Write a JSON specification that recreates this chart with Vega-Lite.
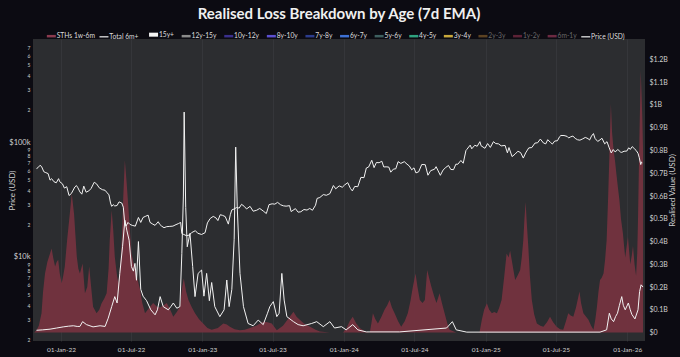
{
  "$schema": "https://vega.github.io/schema/vega-lite/v6.json",
  "width": 612,
  "height": 302,
  "autosize": {"type": "none"},
  "padding": {"left": 33, "top": 39, "right": 35, "bottom": 16},
  "background": "#0c0b12",
  "title": {"text": "Realised Loss Breakdown by Age (7d EMA)", "color": "#f0f0f0", "fontSize": 15, "font": "Lato", "fontWeight": "bold", "anchor": "middle", "offset": 9},
  "config": {
    "view": {"fill": "#2c2d30", "stroke": null},
    "axis": {"labelFont": "Lato", "titleFont": "Lato", "labelColor": "#cfcfcf", "titleColor": "#cfcfcf", "domain": false, "ticks": false, "gridColor": "#3a3b3f", "gridWidth": 0.7, "titleFontWeight": "normal"},
    "legend": {"orient": "none", "legendX": 15, "legendY": -8, "direction": "horizontal", "columns": 15, "symbolType": "stroke", "symbolSize": 81, "symbolStrokeWidth": 2.5, "labelFont": "Lato", "labelFontSize": 6.7, "labelColor": "#dddddd", "labelOffset": 2, "columnPadding": 1.6}
  },
  "datasets": {
    "price": [
      {"date": "2021-10-30", "usd": 61800}, {"date": "2021-11-03", "usd": 63000}, {"date": "2021-11-08", "usd": 66000}, {"date": "2021-11-12", "usd": 64500}, {"date": "2021-11-18", "usd": 58000}, {"date": "2021-11-23", "usd": 57000}, {"date": "2021-11-29", "usd": 55900}, {"date": "2021-12-04", "usd": 49000}, {"date": "2021-12-08", "usd": 50500}, {"date": "2021-12-14", "usd": 47500}, {"date": "2021-12-20", "usd": 46500}, {"date": "2021-12-26", "usd": 50500}, {"date": "2021-12-29", "usd": 47500},
      {"date": "2022-01-05", "usd": 45500}, {"date": "2022-01-10", "usd": 41800}, {"date": "2022-01-16", "usd": 43000}, {"date": "2022-01-22", "usd": 36000}, {"date": "2022-01-28", "usd": 37500}, {"date": "2022-02-06", "usd": 42700}, {"date": "2022-02-10", "usd": 44000}, {"date": "2022-02-14", "usd": 42000}, {"date": "2022-02-19", "usd": 38700}, {"date": "2022-02-24", "usd": 37000}, {"date": "2022-03-01", "usd": 43500}, {"date": "2022-03-07", "usd": 38500}, {"date": "2022-03-14", "usd": 39500}, {"date": "2022-03-20", "usd": 41500}, {"date": "2022-03-28", "usd": 47000}, {"date": "2022-04-03", "usd": 45500}, {"date": "2022-04-10", "usd": 42000}, {"date": "2022-04-18", "usd": 40500}, {"date": "2022-04-25", "usd": 40000}, {"date": "2022-04-29", "usd": 38500}, {"date": "2022-05-05", "usd": 36500}, {"date": "2022-05-09", "usd": 31000}, {"date": "2022-05-12", "usd": 29000}, {"date": "2022-05-16", "usd": 30000}, {"date": "2022-05-20", "usd": 29200}, {"date": "2022-05-26", "usd": 29500}, {"date": "2022-05-31", "usd": 31700}, {"date": "2022-06-07", "usd": 31000}, {"date": "2022-06-11", "usd": 28500}, {"date": "2022-06-14", "usd": 22000}, {"date": "2022-06-18", "usd": 19500}, {"date": "2022-06-23", "usd": 21000}, {"date": "2022-06-28", "usd": 20200}, {"date": "2022-07-04", "usd": 19800}, {"date": "2022-07-12", "usd": 19500}, {"date": "2022-07-20", "usd": 23200}, {"date": "2022-07-26", "usd": 21000}, {"date": "2022-08-01", "usd": 23200}, {"date": "2022-08-08", "usd": 23800}, {"date": "2022-08-14", "usd": 24300}, {"date": "2022-08-19", "usd": 21000}, {"date": "2022-08-26", "usd": 20300}, {"date": "2022-09-01", "usd": 19800}, {"date": "2022-09-09", "usd": 21300}, {"date": "2022-09-13", "usd": 20200}, {"date": "2022-09-18", "usd": 19500}, {"date": "2022-09-24", "usd": 18900}, {"date": "2022-10-01", "usd": 19300}, {"date": "2022-10-09", "usd": 19400}, {"date": "2022-10-17", "usd": 19500}, {"date": "2022-10-25", "usd": 20100}, {"date": "2022-10-31", "usd": 20500}, {"date": "2022-11-06", "usd": 21000}, {"date": "2022-11-09", "usd": 16800}, {"date": "2022-11-14", "usd": 16500}, {"date": "2022-11-21", "usd": 16100}, {"date": "2022-11-28", "usd": 16300}, {"date": "2022-12-04", "usd": 17100}, {"date": "2022-12-14", "usd": 17800}, {"date": "2022-12-20", "usd": 16900}, {"date": "2022-12-30", "usd": 16500},
      {"date": "2023-01-08", "usd": 17100}, {"date": "2023-01-14", "usd": 20800}, {"date": "2023-01-21", "usd": 22700}, {"date": "2023-01-29", "usd": 23700}, {"date": "2023-02-05", "usd": 23000}, {"date": "2023-02-10", "usd": 21800}, {"date": "2023-02-16", "usd": 24500}, {"date": "2023-02-22", "usd": 24200}, {"date": "2023-03-01", "usd": 23600}, {"date": "2023-03-09", "usd": 20300}, {"date": "2023-03-14", "usd": 24500}, {"date": "2023-03-18", "usd": 27000}, {"date": "2023-03-24", "usd": 27500}, {"date": "2023-03-30", "usd": 28300}, {"date": "2023-04-06", "usd": 28000}, {"date": "2023-04-12", "usd": 30200}, {"date": "2023-04-19", "usd": 29000}, {"date": "2023-04-25", "usd": 27500}, {"date": "2023-05-04", "usd": 29000}, {"date": "2023-05-12", "usd": 26300}, {"date": "2023-05-21", "usd": 26800}, {"date": "2023-05-29", "usd": 27800}, {"date": "2023-06-07", "usd": 26400}, {"date": "2023-06-15", "usd": 25100}, {"date": "2023-06-22", "usd": 30000}, {"date": "2023-06-30", "usd": 30500}, {"date": "2023-07-07", "usd": 30300}, {"date": "2023-07-14", "usd": 31400}, {"date": "2023-07-22", "usd": 29900}, {"date": "2023-07-29", "usd": 29300}, {"date": "2023-08-05", "usd": 29100}, {"date": "2023-08-14", "usd": 29400}, {"date": "2023-08-18", "usd": 26100}, {"date": "2023-08-29", "usd": 27700}, {"date": "2023-09-05", "usd": 25800}, {"date": "2023-09-12", "usd": 26000}, {"date": "2023-09-20", "usd": 27200}, {"date": "2023-09-28", "usd": 26900}, {"date": "2023-10-05", "usd": 27800}, {"date": "2023-10-12", "usd": 26800}, {"date": "2023-10-20", "usd": 29700}, {"date": "2023-10-24", "usd": 34000}, {"date": "2023-10-31", "usd": 34600}, {"date": "2023-11-09", "usd": 36700}, {"date": "2023-11-17", "usd": 36200}, {"date": "2023-11-26", "usd": 37400}, {"date": "2023-12-05", "usd": 44000}, {"date": "2023-12-11", "usd": 41200}, {"date": "2023-12-20", "usd": 43700}, {"date": "2023-12-28", "usd": 42500},
      {"date": "2024-01-03", "usd": 44500}, {"date": "2024-01-11", "usd": 46600}, {"date": "2024-01-18", "usd": 41500}, {"date": "2024-01-23", "usd": 39500}, {"date": "2024-01-29", "usd": 43200}, {"date": "2024-02-06", "usd": 43000}, {"date": "2024-02-14", "usd": 51800}, {"date": "2024-02-22", "usd": 51500}, {"date": "2024-02-28", "usd": 62500}, {"date": "2024-03-05", "usd": 63800}, {"date": "2024-03-13", "usd": 73000}, {"date": "2024-03-19", "usd": 63000}, {"date": "2024-03-25", "usd": 69800}, {"date": "2024-04-01", "usd": 69500}, {"date": "2024-04-08", "usd": 71600}, {"date": "2024-04-13", "usd": 63800}, {"date": "2024-04-19", "usd": 64000}, {"date": "2024-04-26", "usd": 63700}, {"date": "2024-05-01", "usd": 57500}, {"date": "2024-05-08", "usd": 61200}, {"date": "2024-05-14", "usd": 61500}, {"date": "2024-05-20", "usd": 71000}, {"date": "2024-05-27", "usd": 68500}, {"date": "2024-06-05", "usd": 71000}, {"date": "2024-06-12", "usd": 67500}, {"date": "2024-06-18", "usd": 65100}, {"date": "2024-06-24", "usd": 60300}, {"date": "2024-06-30", "usd": 62700}, {"date": "2024-07-05", "usd": 56700}, {"date": "2024-07-12", "usd": 57900}, {"date": "2024-07-20", "usd": 67100}, {"date": "2024-07-29", "usd": 66800}, {"date": "2024-08-05", "usd": 54100}, {"date": "2024-08-12", "usd": 59300}, {"date": "2024-08-22", "usd": 61000}, {"date": "2024-08-26", "usd": 64200}, {"date": "2024-09-06", "usd": 54000}, {"date": "2024-09-13", "usd": 60000}, {"date": "2024-09-20", "usd": 63200}, {"date": "2024-09-27", "usd": 65800}, {"date": "2024-10-03", "usd": 60700}, {"date": "2024-10-10", "usd": 60500}, {"date": "2024-10-16", "usd": 67500}, {"date": "2024-10-21", "usd": 67400}, {"date": "2024-10-29", "usd": 72700}, {"date": "2024-11-04", "usd": 68800}, {"date": "2024-11-11", "usd": 88700}, {"date": "2024-11-13", "usd": 90500}, {"date": "2024-11-22", "usd": 98900}, {"date": "2024-11-26", "usd": 91900}, {"date": "2024-12-04", "usd": 98700}, {"date": "2024-12-10", "usd": 96600}, {"date": "2024-12-17", "usd": 106000}, {"date": "2024-12-20", "usd": 97700}, {"date": "2024-12-30", "usd": 92800},
      {"date": "2025-01-06", "usd": 102000}, {"date": "2025-01-13", "usd": 94500}, {"date": "2025-01-21", "usd": 106000}, {"date": "2025-01-27", "usd": 102000}, {"date": "2025-02-03", "usd": 101500}, {"date": "2025-02-10", "usd": 97400}, {"date": "2025-02-20", "usd": 98300}, {"date": "2025-02-26", "usd": 84700}, {"date": "2025-03-02", "usd": 94200}, {"date": "2025-03-10", "usd": 78600}, {"date": "2025-03-18", "usd": 82700}, {"date": "2025-03-25", "usd": 87500}, {"date": "2025-04-01", "usd": 85200}, {"date": "2025-04-08", "usd": 76300}, {"date": "2025-04-14", "usd": 84500}, {"date": "2025-04-22", "usd": 93500}, {"date": "2025-04-30", "usd": 94200}, {"date": "2025-05-08", "usd": 103000}, {"date": "2025-05-15", "usd": 103700}, {"date": "2025-05-22", "usd": 111700}, {"date": "2025-05-30", "usd": 103300}, {"date": "2025-06-05", "usd": 101500}, {"date": "2025-06-10", "usd": 110300}, {"date": "2025-06-17", "usd": 104600}, {"date": "2025-06-22", "usd": 101000}, {"date": "2025-06-28", "usd": 107300}, {"date": "2025-07-05", "usd": 108000}, {"date": "2025-07-11", "usd": 117500}, {"date": "2025-07-14", "usd": 120000}, {"date": "2025-07-22", "usd": 119900}, {"date": "2025-07-30", "usd": 117900}, {"date": "2025-08-03", "usd": 114200}, {"date": "2025-08-08", "usd": 116700}, {"date": "2025-08-14", "usd": 118500}, {"date": "2025-08-20", "usd": 113200}, {"date": "2025-08-26", "usd": 110100}, {"date": "2025-09-01", "usd": 109200}, {"date": "2025-09-08", "usd": 112000}, {"date": "2025-09-15", "usd": 115400}, {"date": "2025-09-22", "usd": 112700}, {"date": "2025-09-26", "usd": 109600}, {"date": "2025-10-01", "usd": 118600}, {"date": "2025-10-06", "usd": 124700}, {"date": "2025-10-10", "usd": 113200}, {"date": "2025-10-17", "usd": 106500}, {"date": "2025-10-23", "usd": 110000}, {"date": "2025-10-28", "usd": 113500}, {"date": "2025-11-04", "usd": 101500}, {"date": "2025-11-10", "usd": 106000}, {"date": "2025-11-15", "usd": 95000}, {"date": "2025-11-21", "usd": 84500}, {"date": "2025-11-26", "usd": 90500}, {"date": "2025-12-01", "usd": 86300}, {"date": "2025-12-08", "usd": 90600}, {"date": "2025-12-15", "usd": 86000}, {"date": "2025-12-18", "usd": 85500}, {"date": "2025-12-24", "usd": 87500}, {"date": "2025-12-31", "usd": 87800},
      {"date": "2026-01-05", "usd": 93800}, {"date": "2026-01-09", "usd": 90700}, {"date": "2026-01-14", "usd": 96000}, {"date": "2026-01-19", "usd": 92500}, {"date": "2026-01-24", "usd": 89000}, {"date": "2026-01-29", "usd": 84000}, {"date": "2026-02-01", "usd": 77500}, {"date": "2026-02-05", "usd": 67000}, {"date": "2026-02-07", "usd": 70500}, {"date": "2026-02-09", "usd": 69500}
    ],
    "sth": [
      {"date": "2021-10-24", "bn": 0}, {"date": "2021-10-30", "bn": 0.01}, {"date": "2021-11-05", "bn": 0.03}, {"date": "2021-11-12", "bn": 0.085}, {"date": "2021-11-16", "bn": 0.18}, {"date": "2021-11-21", "bn": 0.26}, {"date": "2021-11-27", "bn": 0.31}, {"date": "2021-12-04", "bn": 0.348}, {"date": "2021-12-08", "bn": 0.37}, {"date": "2021-12-12", "bn": 0.33}, {"date": "2021-12-17", "bn": 0.29}, {"date": "2021-12-21", "bn": 0.31}, {"date": "2021-12-25", "bn": 0.32}, {"date": "2021-12-29", "bn": 0.26},
      {"date": "2022-01-03", "bn": 0.217}, {"date": "2022-01-07", "bn": 0.25}, {"date": "2022-01-11", "bn": 0.29}, {"date": "2022-01-17", "bn": 0.406}, {"date": "2022-01-24", "bn": 0.523}, {"date": "2022-01-29", "bn": 0.611}, {"date": "2022-02-04", "bn": 0.52}, {"date": "2022-02-11", "bn": 0.333}, {"date": "2022-02-15", "bn": 0.28}, {"date": "2022-02-19", "bn": 0.26}, {"date": "2022-02-26", "bn": 0.304}, {"date": "2022-03-04", "bn": 0.173}, {"date": "2022-03-10", "bn": 0.2}, {"date": "2022-03-15", "bn": 0.29}, {"date": "2022-03-20", "bn": 0.2}, {"date": "2022-03-25", "bn": 0.114}, {"date": "2022-04-03", "bn": 0.085}, {"date": "2022-04-10", "bn": 0.1}, {"date": "2022-04-16", "bn": 0.129}, {"date": "2022-04-23", "bn": 0.15}, {"date": "2022-04-29", "bn": 0.173}, {"date": "2022-05-04", "bn": 0.28}, {"date": "2022-05-07", "bn": 0.406}, {"date": "2022-05-12", "bn": 0.538}, {"date": "2022-05-16", "bn": 0.45}, {"date": "2022-05-20", "bn": 0.333}, {"date": "2022-05-25", "bn": 0.26}, {"date": "2022-05-29", "bn": 0.217}, {"date": "2022-06-03", "bn": 0.3}, {"date": "2022-06-07", "bn": 0.406}, {"date": "2022-06-11", "bn": 0.6}, {"date": "2022-06-15", "bn": 0.757}, {"date": "2022-06-20", "bn": 0.65}, {"date": "2022-06-24", "bn": 0.552}, {"date": "2022-07-02", "bn": 0.348}, {"date": "2022-07-08", "bn": 0.3}, {"date": "2022-07-14", "bn": 0.26}, {"date": "2022-07-24", "bn": 0.19}, {"date": "2022-07-30", "bn": 0.13}, {"date": "2022-08-06", "bn": 0.085}, {"date": "2022-08-13", "bn": 0.1}, {"date": "2022-08-19", "bn": 0.114}, {"date": "2022-08-27", "bn": 0.13}, {"date": "2022-09-05", "bn": 0.115}, {"date": "2022-09-14", "bn": 0.11}, {"date": "2022-09-23", "bn": 0.12}, {"date": "2022-10-01", "bn": 0.13}, {"date": "2022-10-10", "bn": 0.1}, {"date": "2022-10-18", "bn": 0.07}, {"date": "2022-10-27", "bn": 0.09}, {"date": "2022-11-04", "bn": 0.114}, {"date": "2022-11-10", "bn": 0.2}, {"date": "2022-11-14", "bn": 0.238}, {"date": "2022-11-20", "bn": 0.18}, {"date": "2022-11-26", "bn": 0.143}, {"date": "2022-12-05", "bn": 0.11}, {"date": "2022-12-13", "bn": 0.085}, {"date": "2022-12-23", "bn": 0.06},
      {"date": "2023-01-03", "bn": 0.04}, {"date": "2023-01-14", "bn": 0.02}, {"date": "2023-01-25", "bn": 0.012}, {"date": "2023-02-10", "bn": 0.02}, {"date": "2023-02-24", "bn": 0.04}, {"date": "2023-03-05", "bn": 0.035}, {"date": "2023-03-13", "bn": 0.026}, {"date": "2023-03-25", "bn": 0.015}, {"date": "2023-04-08", "bn": 0.01}, {"date": "2023-04-20", "bn": 0.012}, {"date": "2023-05-04", "bn": 0.02}, {"date": "2023-05-20", "bn": 0.03}, {"date": "2023-06-07", "bn": 0.048}, {"date": "2023-06-18", "bn": 0.045}, {"date": "2023-06-29", "bn": 0.04}, {"date": "2023-07-12", "bn": 0.01}, {"date": "2023-07-28", "bn": 0.03}, {"date": "2023-08-10", "bn": 0.06}, {"date": "2023-08-24", "bn": 0.092}, {"date": "2023-09-01", "bn": 0.07}, {"date": "2023-09-10", "bn": 0.055}, {"date": "2023-09-20", "bn": 0.04}, {"date": "2023-10-06", "bn": 0.026}, {"date": "2023-10-20", "bn": 0.012}, {"date": "2023-10-31", "bn": 0.005}, {"date": "2023-11-26", "bn": 0}, {"date": "2023-12-30", "bn": 0},
      {"date": "2024-01-08", "bn": 0.02}, {"date": "2024-01-16", "bn": 0.05}, {"date": "2024-01-24", "bn": 0.07}, {"date": "2024-02-02", "bn": 0.04}, {"date": "2024-02-11", "bn": 0.02}, {"date": "2024-02-25", "bn": 0.005}, {"date": "2024-03-08", "bn": 0}, {"date": "2024-03-12", "bn": 0.04}, {"date": "2024-03-16", "bn": 0.085}, {"date": "2024-03-22", "bn": 0.06}, {"date": "2024-03-29", "bn": 0.04}, {"date": "2024-04-07", "bn": 0.07}, {"date": "2024-04-15", "bn": 0.1}, {"date": "2024-04-22", "bn": 0.12}, {"date": "2024-04-28", "bn": 0.143}, {"date": "2024-05-04", "bn": 0.11}, {"date": "2024-05-11", "bn": 0.085}, {"date": "2024-05-20", "bn": 0.05}, {"date": "2024-05-28", "bn": 0.026}, {"date": "2024-06-06", "bn": 0.05}, {"date": "2024-06-14", "bn": 0.085}, {"date": "2024-06-21", "bn": 0.14}, {"date": "2024-06-27", "bn": 0.2}, {"date": "2024-07-04", "bn": 0.26}, {"date": "2024-07-09", "bn": 0.2}, {"date": "2024-07-15", "bn": 0.143}, {"date": "2024-07-22", "bn": 0.13}, {"date": "2024-07-28", "bn": 0.143}, {"date": "2024-08-03", "bn": 0.275}, {"date": "2024-08-08", "bn": 0.24}, {"date": "2024-08-14", "bn": 0.2}, {"date": "2024-08-21", "bn": 0.16}, {"date": "2024-08-27", "bn": 0.13}, {"date": "2024-09-04", "bn": 0.173}, {"date": "2024-09-10", "bn": 0.13}, {"date": "2024-09-17", "bn": 0.085}, {"date": "2024-09-24", "bn": 0.04}, {"date": "2024-09-30", "bn": 0.012}, {"date": "2024-10-17", "bn": 0}, {"date": "2024-12-16", "bn": 0}, {"date": "2024-12-22", "bn": 0.056}, {"date": "2024-12-28", "bn": 0.1},
      {"date": "2025-01-04", "bn": 0.129}, {"date": "2025-01-10", "bn": 0.1}, {"date": "2025-01-17", "bn": 0.085}, {"date": "2025-01-23", "bn": 0.09}, {"date": "2025-01-30", "bn": 0.085}, {"date": "2025-02-05", "bn": 0.11}, {"date": "2025-02-11", "bn": 0.143}, {"date": "2025-02-18", "bn": 0.25}, {"date": "2025-02-24", "bn": 0.348}, {"date": "2025-03-01", "bn": 0.33}, {"date": "2025-03-05", "bn": 0.36}, {"date": "2025-03-11", "bn": 0.3}, {"date": "2025-03-18", "bn": 0.231}, {"date": "2025-03-24", "bn": 0.25}, {"date": "2025-03-31", "bn": 0.275}, {"date": "2025-04-04", "bn": 0.33}, {"date": "2025-04-08", "bn": 0.406}, {"date": "2025-04-11", "bn": 0.5}, {"date": "2025-04-14", "bn": 0.574}, {"date": "2025-04-17", "bn": 0.48}, {"date": "2025-04-21", "bn": 0.375}, {"date": "2025-04-25", "bn": 0.25}, {"date": "2025-04-30", "bn": 0.143}, {"date": "2025-05-06", "bn": 0.08}, {"date": "2025-05-13", "bn": 0.04}, {"date": "2025-05-22", "bn": 0.03}, {"date": "2025-05-30", "bn": 0.026}, {"date": "2025-06-08", "bn": 0.045}, {"date": "2025-06-16", "bn": 0.07}, {"date": "2025-06-24", "bn": 0.045}, {"date": "2025-07-03", "bn": 0.026}, {"date": "2025-07-12", "bn": 0.015}, {"date": "2025-07-20", "bn": 0.012}, {"date": "2025-07-27", "bn": 0.05}, {"date": "2025-08-02", "bn": 0.085}, {"date": "2025-08-08", "bn": 0.075}, {"date": "2025-08-15", "bn": 0.07}, {"date": "2025-08-22", "bn": 0.11}, {"date": "2025-08-31", "bn": 0.18}, {"date": "2025-09-04", "bn": 0.13}, {"date": "2025-09-10", "bn": 0.085}, {"date": "2025-09-17", "bn": 0.07}, {"date": "2025-09-23", "bn": 0.056}, {"date": "2025-09-30", "bn": 0.03}, {"date": "2025-10-06", "bn": 0.012}, {"date": "2025-10-11", "bn": 0.06}, {"date": "2025-10-15", "bn": 0.114}, {"date": "2025-10-19", "bn": 0.18}, {"date": "2025-10-23", "bn": 0.231}, {"date": "2025-10-27", "bn": 0.24}, {"date": "2025-11-01", "bn": 0.26}, {"date": "2025-11-05", "bn": 0.32}, {"date": "2025-11-09", "bn": 0.406}, {"date": "2025-11-13", "bn": 0.6}, {"date": "2025-11-16", "bn": 0.772}, {"date": "2025-11-20", "bn": 1.006}, {"date": "2025-11-23", "bn": 0.88}, {"date": "2025-11-27", "bn": 0.8}, {"date": "2025-12-01", "bn": 0.75}, {"date": "2025-12-04", "bn": 0.7}, {"date": "2025-12-08", "bn": 0.64}, {"date": "2025-12-12", "bn": 0.582}, {"date": "2025-12-16", "bn": 0.5}, {"date": "2025-12-21", "bn": 0.436}, {"date": "2025-12-24", "bn": 0.38}, {"date": "2025-12-27", "bn": 0.33}, {"date": "2025-12-30", "bn": 0.37},
      {"date": "2026-01-03", "bn": 0.42}, {"date": "2026-01-06", "bn": 0.36}, {"date": "2026-01-09", "bn": 0.3}, {"date": "2026-01-13", "bn": 0.34}, {"date": "2026-01-16", "bn": 0.38}, {"date": "2026-01-20", "bn": 0.3}, {"date": "2026-01-24", "bn": 0.25}, {"date": "2026-01-27", "bn": 0.35}, {"date": "2026-01-29", "bn": 0.5}, {"date": "2026-02-01", "bn": 0.8}, {"date": "2026-02-05", "bn": 1.15}, {"date": "2026-02-07", "bn": 1.05}, {"date": "2026-02-09", "bn": 0.95}, {"date": "2026-02-11", "bn": 0.8}
    ],
    "total": [
      {"date": "2021-10-30", "bn": 0.01}, {"date": "2021-11-15", "bn": 0.012}, {"date": "2021-12-04", "bn": 0.015}, {"date": "2021-12-21", "bn": 0.02}, {"date": "2022-01-07", "bn": 0.025}, {"date": "2022-01-20", "bn": 0.028}, {"date": "2022-02-02", "bn": 0.03}, {"date": "2022-02-12", "bn": 0.027}, {"date": "2022-02-19", "bn": 0.027}, {"date": "2022-02-26", "bn": 0.048}, {"date": "2022-03-08", "bn": 0.035}, {"date": "2022-03-25", "bn": 0.025}, {"date": "2022-04-12", "bn": 0.03}, {"date": "2022-04-25", "bn": 0.027}, {"date": "2022-05-03", "bn": 0.063}, {"date": "2022-05-12", "bn": 0.114}, {"date": "2022-05-20", "bn": 0.158}, {"date": "2022-05-26", "bn": 0.13}, {"date": "2022-06-02", "bn": 0.26}, {"date": "2022-06-09", "bn": 0.377}, {"date": "2022-06-15", "bn": 0.494}, {"date": "2022-06-20", "bn": 0.45}, {"date": "2022-06-26", "bn": 0.406}, {"date": "2022-07-02", "bn": 0.29}, {"date": "2022-07-07", "bn": 0.27}, {"date": "2022-07-11", "bn": 0.304}, {"date": "2022-07-15", "bn": 0.23}, {"date": "2022-07-20", "bn": 0.4}, {"date": "2022-07-26", "bn": 0.19}, {"date": "2022-08-01", "bn": 0.16}, {"date": "2022-08-10", "bn": 0.14}, {"date": "2022-08-21", "bn": 0.1}, {"date": "2022-09-01", "bn": 0.078}, {"date": "2022-09-07", "bn": 0.1}, {"date": "2022-09-14", "bn": 0.158}, {"date": "2022-09-22", "bn": 0.114}, {"date": "2022-10-05", "bn": 0.1}, {"date": "2022-10-12", "bn": 0.115}, {"date": "2022-10-18", "bn": 0.13}, {"date": "2022-10-27", "bn": 0.107}, {"date": "2022-11-04", "bn": 0.114}, {"date": "2022-11-09", "bn": 0.348}, {"date": "2022-11-13", "bn": 0.6}, {"date": "2022-11-15", "bn": 0.969}, {"date": "2022-11-19", "bn": 0.55}, {"date": "2022-11-23", "bn": 0.377}, {"date": "2022-11-30", "bn": 0.436}, {"date": "2022-12-07", "bn": 0.29}, {"date": "2022-12-13", "bn": 0.158}, {"date": "2022-12-21", "bn": 0.26}, {"date": "2022-12-30", "bn": 0.275},
      {"date": "2023-01-05", "bn": 0.16}, {"date": "2023-01-12", "bn": 0.26}, {"date": "2023-01-19", "bn": 0.14}, {"date": "2023-01-25", "bn": 0.22}, {"date": "2023-02-02", "bn": 0.114}, {"date": "2023-02-15", "bn": 0.07}, {"date": "2023-02-26", "bn": 0.1}, {"date": "2023-03-05", "bn": 0.231}, {"date": "2023-03-11", "bn": 0.114}, {"date": "2023-03-18", "bn": 0.19}, {"date": "2023-03-24", "bn": 0.41}, {"date": "2023-03-28", "bn": 0.815}, {"date": "2023-04-01", "bn": 0.55}, {"date": "2023-04-08", "bn": 0.26}, {"date": "2023-04-17", "bn": 0.114}, {"date": "2023-04-29", "bn": 0.04}, {"date": "2023-05-12", "bn": 0.03}, {"date": "2023-05-25", "bn": 0.055}, {"date": "2023-06-07", "bn": 0.035}, {"date": "2023-06-18", "bn": 0.085}, {"date": "2023-06-24", "bn": 0.114}, {"date": "2023-07-03", "bn": 0.136}, {"date": "2023-07-12", "bn": 0.07}, {"date": "2023-07-18", "bn": 0.085}, {"date": "2023-07-25", "bn": 0.26}, {"date": "2023-07-31", "bn": 0.143}, {"date": "2023-08-07", "bn": 0.07}, {"date": "2023-08-24", "bn": 0.048}, {"date": "2023-09-05", "bn": 0.035}, {"date": "2023-09-18", "bn": 0.03}, {"date": "2023-10-10", "bn": 0.04}, {"date": "2023-10-23", "bn": 0.048}, {"date": "2023-11-09", "bn": 0.026}, {"date": "2023-11-26", "bn": 0.048}, {"date": "2023-12-08", "bn": 0.02}, {"date": "2023-12-26", "bn": 0.026},
      {"date": "2024-01-07", "bn": 0.012}, {"date": "2024-01-24", "bn": 0.035}, {"date": "2024-02-06", "bn": 0.012}, {"date": "2024-02-28", "bn": 0.003}, {"date": "2024-05-24", "bn": 0.003}, {"date": "2024-09-22", "bn": 0.02}, {"date": "2024-10-07", "bn": 0.048}, {"date": "2024-10-17", "bn": 0.012}, {"date": "2024-11-13", "bn": 0.002}, {"date": "2025-10-23", "bn": 0.002}, {"date": "2025-11-09", "bn": 0.012}, {"date": "2025-11-16", "bn": 0.085}, {"date": "2025-11-21", "bn": 0.06}, {"date": "2025-11-27", "bn": 0.048}, {"date": "2025-12-02", "bn": 0.07}, {"date": "2025-12-07", "bn": 0.085}, {"date": "2025-12-12", "bn": 0.12}, {"date": "2025-12-18", "bn": 0.158}, {"date": "2025-12-22", "bn": 0.12}, {"date": "2025-12-27", "bn": 0.1}, {"date": "2026-01-04", "bn": 0.13}, {"date": "2026-01-09", "bn": 0.1}, {"date": "2026-01-13", "bn": 0.08}, {"date": "2026-01-21", "bn": 0.06}, {"date": "2026-01-29", "bn": 0.1}, {"date": "2026-02-02", "bn": 0.18}, {"date": "2026-02-06", "bn": 0.21}, {"date": "2026-02-11", "bn": 0.2}
    ],
    "mark": [{"label": "checkonchain"}]
  },
  "encoding": {
    "x": {"field": "date", "type": "temporal", "title": null,
      "scale": {"domain": ["2021-10-21", "2026-02-16"]},
      "axis": {"values": ["2022-01-01", "2022-07-01", "2023-01-01", "2023-07-01", "2024-01-01", "2024-07-01", "2025-01-01", "2025-07-01", "2026-01-01"], "format": "%d-%b-%y", "labelFontSize": 6.5, "labelPadding": 5, "grid": true, "labelColor": "#cfcfcf"}}
  },
  "layer": [
    {
      "layer": [
        {"data": {"name": "mark"}, "mark": {"type": "text", "font": "Lato", "fontWeight": "bold", "fontSize": 27, "color": "#404145"},
         "encoding": {"x": {"datum": {"year": 2023, "month": 11, "date": 26}, "type": "temporal"}, "y": {"datum": 0.63}, "text": {"field": "label"}}},
        {"data": {"name": "sth"}, "mark": {"type": "area", "color": "#74333f", "opacity": 0.95},
         "encoding": {"y": {"field": "bn", "type": "quantitative"}}},
        {"data": {"name": "total"}, "mark": {"type": "line", "strokeWidth": 1, "interpolate": "linear"},
         "encoding": {"y": {"field": "bn", "type": "quantitative"},
           "color": {"datum": "Total 6m+", "type": "nominal",
             "scale": {"domain": ["STHs 1w-6m", "Total 6m+", "15y+", "12y-15y", "10y-12y", "8y-10y", "7y-8y", "6y-7y", "5y-6y", "4y-5y", "3y-4y", "2y-3y", "1y-2y", "6m-1y", "Price (USD)"],
               "range": ["#8a3a4e", "#f2f2f2", "#f4f4f4", "#8a8a8a", "#3a2f8c", "#5b4fd0", "#2c3c8c", "#3d70d4", "#3e5f60", "#2ea27f", "#c9a83c", "#5c4222", "#5c2236", "#6c2a42", "#f2f2f2"]},
             "legend": {"title": null,
               "encode": {"labels": {"update": {"fill": {"signal": "indexof(['2y-3y','1y-2y','6m-1y'], datum.label) >= 0 ? '#6a6a6a' : '#dddddd'"}}},
                          "symbols": {"update": {"strokeWidth": {"signal": "datum.label == '15y+' ? 4 : (datum.label == 'Total 6m+' || datum.label == 'Price (USD)') ? 1.2 : 2.5"}}}}}}}},
        {"data": {"name": "mark"}, "mark": {"type": "rule", "color": "#e6b7c3", "strokeWidth": 1.2},
         "encoding": {"y": {"datum": 0}}}
      ],
      "encoding": {
        "y": {"type": "quantitative", "title": "Realised Value (USD)",
          "scale": {"domain": [-0.037, 1.29], "nice": false, "zero": false},
          "axis": {"orient": "right", "values": [0, 0.1, 0.2, 0.3, 0.4, 0.5, 0.6, 0.7, 0.8, 0.9, 1, 1.1, 1.2], "labelExpr": "datum.value == 0 ? '$0' : '$' + (round(datum.value * 10) / 10) + 'B'", "labelFontSize": 7, "labelPadding": 4, "grid": false, "titleFontSize": 8, "titleAngle": -90, "titleX": 27, "titleBaseline": "middle"}}
      }
    },
    {
      "data": {"name": "price"},
      "mark": {"type": "line", "strokeWidth": 1, "color": "#e8e8e8"},
      "encoding": {
        "y": {"field": "usd", "type": "quantitative", "title": "Price (USD)",
          "scale": {"type": "log", "domain": [1950, 830000], "nice": false},
          "axis": {"orient": "left", "values": [2000, 3000, 4000, 5000, 6000, 7000, 8000, 9000, 10000, 20000, 30000, 40000, 50000, 60000, 70000, 80000, 90000, 100000, 200000, 300000, 400000, 500000, 600000, 700000],
            "labelExpr": "datum.value == 10000 ? '$10k' : datum.value == 100000 ? '$100k' : datum.value < 10000 ? datum.value / 1000 : datum.value < 100000 ? datum.value / 10000 : datum.value / 100000",
            "labelOverlap": false, "labelBound": false,
            "labelOffset": {"condition": {"test": "datum.value == 10000 || datum.value == 100000", "value": -2.5}, "value": 0},
            "labelFontSize": {"condition": {"test": "datum.value == 10000 || datum.value == 100000", "value": 7.5}, "value": 5}, "labelPadding": 3, "grid": false, "titleFontSize": 8, "titleX": -21, "titleBaseline": "middle"}},
        "color": {"datum": "Price (USD)", "type": "nominal"}
      }
    }
  ],
  "resolve": {"scale": {"y": "independent"}}
}
